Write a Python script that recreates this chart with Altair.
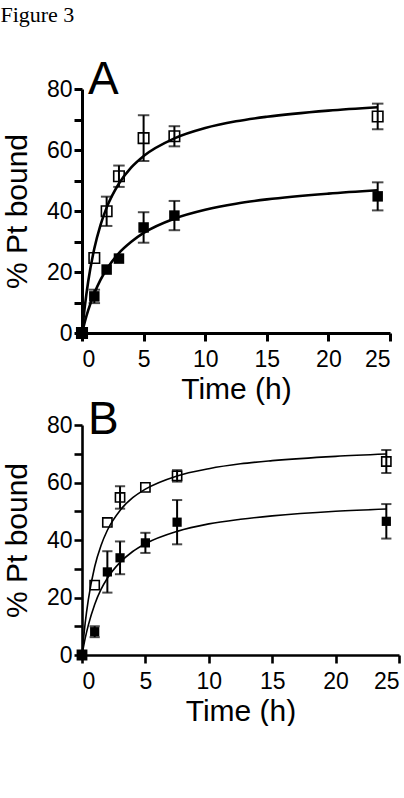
import altair as alt
import pandas as pd

# observed time points (h)
t_obs = [0, 1, 2, 3, 5, 7.5, 24]

# Panel A observations (% Pt bound) and error half-widths
A_open = [0, 24.6, 39.9, 51.4, 63.9, 64.5, 71.0]
A_open_err = [0, 0, 4.8, 3.5, 7.5, 3.3, 4.2]
A_filled = [0, 12.0, 20.8, 24.4, 34.6, 38.5, 44.8]
A_filled_err = [0, 2.2, 0, 0, 5.0, 4.8, 4.6]

# Panel B observations
B_open = [0, 24.3, 46.1, 54.8, 58.3, 62.3, 67.3]
B_open_err = [0, 0, 0, 3.9, 0, 2.0, 4.0]
B_filled = [0, 8.1, 28.9, 33.8, 39.0, 46.2, 46.5]
B_filled_err = [0, 1.9, 7.2, 5.7, 3.5, 7.7, 6.0]

# fitted curves
t_fit = [0, 0.25, 0.5, 1, 1.5, 2, 3, 4, 5, 7.5, 10, 12.5, 15, 20, 24]
A_open_fit = [0, 9.4, 16.8, 27.7, 35.4, 41.1, 49.0, 54.3, 58.0, 63.8, 67.2, 69.4, 70.9, 72.9, 74.0]
A_filled_fit = [0, 4.0, 7.4, 13.0, 17.4, 20.9, 26.2, 29.9, 32.8, 37.5, 40.4, 42.4, 43.8, 45.7, 46.8]
B_open_fit = [0, 11.1, 19.3, 30.7, 38.1, 43.4, 50.3, 54.7, 57.7, 62.3, 64.8, 66.5, 67.6, 69.1, 69.9]
B_filled_fit = [0, 5.8, 10.4, 17.6, 22.8, 26.7, 32.2, 36.0, 38.7, 43.0, 45.6, 47.2, 48.4, 50.0, 50.8]

x_ticks = [0, 5, 10, 15, 20, 25]
y_ticks = [0, 10, 20, 30, 40, 50, 60, 70, 80]


def panel(letter, o, oe, f, fe, ofit, ffit, w, h, lw, dw, msize, title_dy):
    obs = pd.DataFrame({
        "t": t_obs * 2,
        "y": o + f,
        "err": oe + fe,
        "series": ["open"] * len(o) + ["filled"] * len(f),
    })
    obs["lo"] = obs["y"] - obs["err"]
    obs["hi"] = obs["y"] + obs["err"]
    fit = pd.DataFrame({
        "t": t_fit * 2,
        "y": ofit + ffit,
        "series": ["open"] * len(ofit) + ["filled"] * len(ffit),
    })
    xenc = alt.X("t:Q", scale=alt.Scale(domain=[0, 25], nice=False, zero=True),
                 axis=alt.Axis(values=x_ticks, title="Time (h)", domainWidth=dw, tickWidth=dw,
                               labelPadding=7, titlePadding=3))
    yax = alt.Axis(values=y_ticks, title="% Pt bound", domainWidth=dw, tickWidth=dw,
                   labelExpr="datum.value % 20 == 0 ? datum.label : ''",
                   labelPadding=2, titlePadding=14)
    ysc = alt.Scale(domain=[0, 80], nice=False)

    curves = alt.Chart(fit).mark_line(color="black", strokeWidth=lw, interpolate="monotone").encode(
        x=xenc, y=alt.Y("y:Q", scale=ysc, axis=yax), detail="series:N")
    eb = alt.Chart(obs).transform_filter("datum.err > 0")
    rules = eb.mark_rule(color="black", strokeWidth=2).encode(
        x=xenc, y=alt.Y("lo:Q", scale=ysc, axis=yax), y2="hi:Q")
    cap_hi = eb.mark_tick(color="black", orient="horizontal", size=msize ** 0.5 + 1, thickness=2).encode(
        x=xenc, y=alt.Y("hi:Q", scale=ysc, axis=yax))
    cap_lo = eb.mark_tick(color="black", orient="horizontal", size=msize ** 0.5 + 1, thickness=2).encode(
        x=xenc, y=alt.Y("lo:Q", scale=ysc, axis=yax))
    opn = alt.Chart(obs).transform_filter("datum.series == 'open'").mark_point(
        shape="square", filled=False, color="black", strokeWidth=1.6, size=msize, opacity=1).encode(
        x=xenc, y=alt.Y("y:Q", scale=ysc, axis=yax))
    fil = alt.Chart(obs).transform_filter("datum.series == 'filled'").mark_point(
        shape="square", filled=True, color="black", size=msize, opacity=1).encode(
        x=xenc, y=alt.Y("y:Q", scale=ysc, axis=yax))
    return alt.layer(curves, rules, cap_hi, cap_lo, opn, fil).properties(
        width=w, height=h,
        title=alt.TitleParams(letter, anchor="start", frame="group", fontSize=46,
                              font="Liberation Sans", fontWeight="normal", color="black",
                              dx=6, offset=title_dy),
    )


pa = panel("A", A_open, A_open_err, A_filled, A_filled_err, A_open_fit, A_filled_fit,
           308, 244, 2.6, 3, 110, -26)
pb = panel("B", B_open, B_open_err, B_filled, B_filled_err, B_open_fit, B_filled_fit,
           317, 230, 1.6, 2.6, 85, -30)

chart = alt.vconcat(pa, pb, spacing=92, bounds="flush").properties(
    title=alt.TitleParams("Figure 3", anchor="start", frame="bounds", font="Liberation Serif",
                          fontSize=22, fontWeight="normal", color="black", dx=-2, offset=30),
    padding={"left": 0, "top": 4, "right": 0, "bottom": 0},
).configure_axis(
    domainColor="black", tickColor="black", tickSize=8, grid=False,
    labelFont="Liberation Sans", labelFontSize=23, labelColor="black",
    titleFont="Liberation Sans", titleFontSize=30, titleFontWeight="normal", titleColor="black",
).configure_view(stroke=None)

chart.save("out.html", embed_options={"renderer": "svg", "actions": False})
